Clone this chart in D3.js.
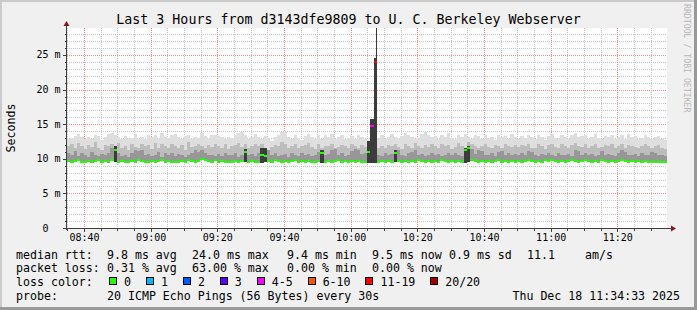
<!DOCTYPE html>
<html><head><meta charset="utf-8">
<script src="https://cdn.jsdelivr.net/npm/d3@7"></script>
<style>
html,body{margin:0;padding:0;background:#f0f0f0;}
svg{display:block;}
text{font-family:"DejaVu Sans Mono",monospace;fill:#000;white-space:pre;}
</style></head><body>
<svg id="c" width="697" height="310"></svg>
<script>
// ---------- data ----------
const title = "Last 3 Hours from d3143dfe9809 to U. C. Berkeley Webserver";
const yAxisTitle = "Seconds";
const startTime = [2025, 11, 18, 8, 34, 54];
const stepMinutes = 1;
const yMax = 28.9;
const yTicks = [0, 5, 10, 15, 20, 25];
const yTickLabels = ["0  ", "5 m", "10 m", "15 m", "20 m", "25 m"];

// median rtt (ms) per step
const median = [
 9.7,9.6,9.7,9.8,9.6,9.5,9.7,9.6,9.7,9.8,
 9.6,9.7,9.6,9.8,11.2,9.6,9.7,9.5,9.6,9.7,
 9.6,9.8,9.7,9.5,9.6,9.7,9.6,9.7,9.8,9.6,
 9.7,9.6,9.5,9.6,9.7,9.6,9.8,9.7,9.6,9.7,
 9.9,9.8,9.7,9.6,9.8,
 9.6,9.7,9.6,9.5,9.6,9.7,9.6,9.7,11.0,9.6,
 9.7,9.6,9.5,10.6,10.4,9.7,9.6,9.8,9.7,9.6,
 9.7,9.6,9.7,9.8,9.6,9.7,9.6,9.7,9.6,9.5,
 9.7,10.8,9.6,9.7,9.6,9.7,9.8,9.6,9.7,9.6,
 9.7,9.6,9.7,9.6,9.5,
 11.0,14.7,24.0,9.6,9.7,9.6,9.7,9.6,10.8,9.7,
 9.6,9.7,9.6,9.7,9.6,9.8,9.7,9.6,9.7,9.6,
 9.7,9.6,9.8,9.7,9.6,9.7,9.6,9.7,9.6,11.3,
 11.6,9.8,9.7,9.6,9.7,9.6,9.7,9.6,9.7,9.8,
 9.6,9.7,9.6,9.7,9.6,
 9.7,9.6,9.7,9.8,9.7,9.6,9.7,9.6,9.8,9.7,
 9.8,9.7,9.6,9.7,9.6,9.7,9.8,9.7,9.6,9.7,
 9.8,9.7,9.6,9.7,9.6,9.8,9.7,9.6,9.7,9.6,
 9.7,9.8,9.7,9.6,9.7,9.6,9.7,9.6,9.7,9.6,
 9.6,9.5,9.5,9.5,9.5
];
// top of the darkest smoke (ms)
const smokeDark = [
 10.9,10.6,11.1,10.4,10.8,10.5,10.3,11.0,10.6,10.4,
 10.7,10.5,10.9,11.6,11.8,10.8,10.4,10.6,10.3,10.9,
 11.3,11.1,11.2,10.5,10.7,10.4,10.6,11.0,10.3,10.8,
 10.5,10.9,10.4,10.7,10.5,10.3,10.6,10.8,11.2,11.0,
 11.3,10.9,10.6,10.5,10.4,
 10.7,10.4,10.9,10.6,10.5,10.8,10.3,10.6,11.4,10.5,
 10.7,10.4,10.9,11.5,11.6,11.3,10.6,10.8,10.4,10.5,
 10.7,10.3,10.9,10.6,10.4,10.8,10.5,10.7,10.4,10.6,
 11.0,11.3,10.5,10.7,11.2,11.4,10.6,10.8,10.4,10.5,
 11.1,11.4,11.2,10.7,10.9,
 12.5,15.7,24.5,10.6,10.4,10.8,10.5,10.7,11.3,11.2,
 10.6,10.4,10.8,11.0,11.3,10.5,10.7,10.4,10.6,10.8,
 10.5,10.7,10.4,10.6,10.9,10.5,10.8,10.6,10.4,11.6,
 11.8,11.4,10.7,11.2,11.1,10.6,10.5,10.8,10.4,11.0,
 11.1,10.6,10.8,10.5,10.7,
 10.6,10.8,10.5,11.1,11.0,10.6,10.4,10.7,10.5,10.8,
 10.6,10.4,10.9,10.6,10.5,10.7,10.4,11.2,11.1,10.6,
 10.8,10.5,10.7,10.4,10.6,11.1,10.5,10.7,10.6,10.4,
 10.8,11.2,11.0,10.6,10.5,10.7,10.4,10.8,10.6,10.5,
 11.0,10.9,10.6,10.5,10.4
];
// top of the middle smoke (ms)
const smokeMid = [
 11.8,12.1,11.5,12.3,11.9,11.4,12.0,11.7,12.4,11.6,
 11.3,12.0,11.8,12.2,11.9,12.3,11.5,11.9,11.2,12.1,
 11.7,11.5,12.2,11.8,12.0,11.4,12.3,11.6,12.1,11.9,
 11.5,12.2,11.8,11.6,12.0,11.3,12.4,11.7,11.9,12.1,
 11.8,11.5,12.0,11.7,12.2,
 11.9,11.6,12.1,11.4,11.8,12.0,12.3,11.7,12.2,11.5,
 11.8,12.1,11.9,12.2,11.6,11.3,11.7,12.0,11.8,12.4,
 12.2,11.6,11.9,12.1,11.5,11.8,12.0,12.3,11.7,11.4,
 12.1,11.6,11.9,11.8,12.2,11.5,11.7,12.0,11.9,11.6,
 12.1,11.8,11.5,12.0,11.7,
 12.2,15.7,24.5,11.6,11.9,11.5,12.0,11.8,12.2,11.7,
 11.4,12.1,11.9,11.6,12.3,11.8,11.5,12.0,11.7,12.2,
 11.9,11.6,12.1,11.8,12.0,11.4,11.7,12.3,11.9,11.6,
 12.4,12.2,11.8,11.5,11.9,12.1,11.7,11.6,12.0,11.8,
 11.5,12.2,11.9,11.7,12.0,
 11.7,12.0,11.8,12.2,11.6,11.5,12.1,11.9,11.4,12.0,
 12.2,11.7,11.6,12.1,11.8,11.5,12.0,12.3,11.9,11.7,
 12.1,11.6,11.8,12.2,11.5,11.7,12.0,11.9,12.2,11.6,
 11.8,12.1,11.5,12.0,11.9,11.7,11.6,11.8,12.1,11.9,
 11.6,11.8,12.0,11.5,11.4
];
// top of the light smoke = slowest ping (ms)
const smokeTop = [
 12.9,13.0,13.3,13.6,13.2,12.8,13.1,12.9,13.5,13.3,
 12.7,13.2,13.6,13.7,13.4,13.1,12.8,13.3,12.9,13.0,
 13.6,12.9,13.2,12.8,13.5,13.1,13.4,12.9,13.7,13.2,
 13.0,13.5,13.6,13.1,12.9,13.3,13.5,12.8,13.2,13.0,
 13.7,13.3,12.9,13.4,13.5,
 13.3,13.1,12.8,13.2,13.0,13.4,13.7,13.8,13.5,12.9,
 13.2,13.6,13.1,12.8,13.3,13.0,12.6,13.2,13.5,13.8,
 13.8,13.1,12.9,13.4,13.0,12.7,13.3,13.6,13.2,12.9,
 13.5,12.8,13.4,13.1,13.6,12.9,13.2,13.5,12.8,13.0,
 13.3,12.9,13.4,13.1,12.8,
 12.7,15.7,29.3,13.0,13.4,12.9,13.2,13.6,13.1,12.8,
 13.3,13.7,13.5,13.2,12.9,13.0,13.6,13.8,13.4,13.1,
 13.3,12.9,13.5,13.2,13.7,13.0,12.8,13.4,13.1,13.6,
 13.2,12.9,13.5,13.3,12.8,13.4,13.0,13.2,12.7,13.5,
 13.1,13.3,12.9,13.6,13.2,
 12.8,13.3,13.0,13.5,13.2,12.9,13.4,13.1,12.7,13.3,
 13.6,13.0,12.9,13.5,13.2,12.8,13.4,13.7,13.1,13.3,
 13.5,12.9,13.2,13.6,13.0,12.8,13.3,13.1,13.5,12.9,
 13.2,13.4,12.8,13.6,13.1,13.3,12.9,13.0,13.5,13.2,
 12.8,13.1,13.3,12.9,12.7
];
// steps whose fastest ping lies well below the median (dense, dark smoke)
const lowPingAt = [14, 53, 58, 59, 76, 90, 91, 92, 98, 119, 120];
const lowPingMs = [9.7, 9.7, 9.6, 9.7, 9.6, 9.6, 9.6, 9.6, 9.7, 9.6, 9.7];
// steps with lost pings (out of 20)
const lossAt = [91, 92];
const lossPings = [5, 13];

const lossLabels = ["0", "1", "2", "3", "4-5", "6-10", "11-19", "20/20"];
const lossUpper = [0, 1, 2, 3, 5, 10, 19, 20];
const lossColors = ["#26ff00", "#00b8ff", "#0059ff", "#5e00ff", "#ff00ff", "#ff5500", "#ff0000", "#a10000"];

const rttLabel = "median rtt:";
const rttStats = ["9.8 ms avg", "24.0 ms max", "9.4 ms min", "9.5 ms now", "0.9 ms sd", "11.1", "am/s"];
const lossLabel = "packet loss:";
const lossStats = ["0.31 % avg", "63.00 % max", "0.00 % min", "0.00 % now"];
const colorLabel = "loss color:";
const probeLabel = "probe:";
const probeText = "20 ICMP Echo Pings (56 Bytes) every 30s";
const stampText = "Thu Dec 18 11:34:33 2025";
const watermark = "RRDTOOL / TOBI OETIKER";

// ---------- layout ----------
const L = 67, R = 667, T = 28, B = 228;
const svg = d3.select("#c");
const t0 = new Date(startTime[0], startTime[1], startTime[2], startTime[3], startTime[4], startTime[5]);
const n = median.length;
const t1 = d3.timeMinute.offset(t0, n * stepMinutes);
const x = d3.scaleTime().domain([t0, t1]).range([L, R]);
const y = d3.scaleLinear().domain([0, yMax]).range([B, T]);

// background + border
svg.append("rect").attr("width", 697).attr("height", 310).attr("fill", "#f0f0f0");
svg.append("rect").attr("x", 0).attr("y", 0).attr("width", 697).attr("height", 2).attr("fill", "#cbcbcb");
svg.append("rect").attr("x", 0).attr("y", 0).attr("width", 2).attr("height", 310).attr("fill", "#cbcbcb");
svg.append("rect").attr("x", 694).attr("y", 0).attr("width", 3).attr("height", 310).attr("fill", "#999");
svg.append("rect").attr("x", 0).attr("y", 307).attr("width", 697).attr("height", 3).attr("fill", "#999");

// plot canvas
svg.append("rect").attr("x", L).attr("y", T).attr("width", R - L).attr("height", B - T).attr("fill", "#fff");

// grid
const g = svg.append("g").attr("shape-rendering", "crispEdges");
const minorT = d3.timeMinute.every(5).range(t0, t1);
const isMajorT = d => d.getMinutes() % 20 === 0;
g.selectAll(".vmin").data(minorT.filter(d => !isMajorT(d))).join("line")
  .attr("x1", d => Math.round(x(d)) + 0.5).attr("x2", d => Math.round(x(d)) + 0.5)
  .attr("y1", T).attr("y2", B).attr("stroke", "#c8c8c8").attr("stroke-dasharray", "1,1");
const yMinor = d3.range(1, Math.floor(yMax) + 1);
g.selectAll(".hmin").data(yMinor.filter(v => v % 5 !== 0)).join("line")
  .attr("x1", L).attr("x2", R).attr("y1", v => Math.round(y(v)) + 0.5).attr("y2", v => Math.round(y(v)) + 0.5)
  .attr("stroke", "#c8c8c8").attr("stroke-dasharray", "1,1");
g.selectAll(".vmaj").data(minorT.filter(isMajorT)).join("line")
  .attr("x1", d => Math.round(x(d)) + 0.5).attr("x2", d => Math.round(x(d)) + 0.5)
  .attr("y1", T).attr("y2", B).attr("stroke", "#ff8c8c").attr("stroke-dasharray", "1,1");
g.selectAll(".hmaj").data(yTicks.filter(v => v > 0)).join("line")
  .attr("x1", L).attr("x2", R).attr("y1", v => Math.round(y(v)) + 0.5).attr("y2", v => Math.round(y(v)) + 0.5)
  .attr("stroke", "#ff8c8c").attr("stroke-dasharray", "1,1");

// clip
svg.append("clipPath").attr("id", "pc").append("rect").attr("x", L).attr("y", T).attr("width", R - L).attr("height", B - T);
const data = median.map((m, i) => {
  const li = lowPingAt.indexOf(i);
  const lo = li >= 0 ? lowPingMs[li] : m;
  const ls = lossAt.indexOf(i);
  const lost = ls >= 0 ? lossPings[ls] : 0;
  const ci = lossUpper.findIndex(u => lost <= u);
  return {i, m, lo, dense: li >= 0, dk: smokeDark[i], mid: smokeMid[i], top: smokeTop[i],
          ta: d3.timeMinute.offset(t0, i * stepMinutes), tb: d3.timeMinute.offset(t0, (i + 1) * stepMinutes),
          color: lossColors[ci]};
});
const plot = svg.append("g").attr("clip-path", "url(#pc)").attr("shape-rendering", "crispEdges");
const xa = d => Math.round(x(d.ta)), xb = d => Math.round(x(d.tb));
function band(rows, key, color) {
  plot.append("g").selectAll("rect").data(rows).join("rect")
    .attr("x", xa).attr("width", d => xb(d) - xa(d))
    .attr("y", d => Math.round(y(d[key])))
    .attr("height", d => Math.max(0, Math.round(y(d.lo)) + 1 - Math.round(y(d[key]))))
    .attr("fill", color);
}
const normalTop = data.filter(d => d.top - d.mid < 3);
band(normalTop, "top", "#dedede");
band(data, "mid", "#bdbdbd");
band(data.filter(d => !d.dense), "dk", "#979797");
band(data.filter(d => d.dense), "dk", "#3c3c3c");
// outlier ping of a spike: thin dark stroke
plot.append("g").selectAll("line").data(data.filter(d => d.top - d.mid >= 3)).join("line")
  .attr("x1", d => Math.round((xa(d) + xb(d)) / 2) + 0.5).attr("x2", d => Math.round((xa(d) + xb(d)) / 2) + 0.5)
  .attr("y1", d => y(d.top)).attr("y2", d => y(d.mid)).attr("stroke", "#383838");
// median line, coloured by loss
plot.append("g").selectAll("line").data(data).join("line")
  .attr("x1", xa).attr("x2", xb)
  .attr("y1", d => Math.round(y(d.m))).attr("y2", d => Math.round(y(d.m)))
  .attr("stroke", d => d.color).attr("stroke-width", 2);

// axes
const ax = svg.append("g").attr("shape-rendering", "crispEdges");
ax.append("line").attr("x1", L - 0.5).attr("x2", L - 0.5).attr("y1", B + 2).attr("y2", T - 5).attr("stroke", "#404040");
ax.append("line").attr("x1", L - 4).attr("x2", R + 5).attr("y1", B + 0.5).attr("y2", B + 0.5).attr("stroke", "#404040");
ax.selectAll(".yt").data(yMinor.concat([0])).join("line")
  .attr("x1", v => v % 5 === 0 ? L - 4 : L - 2).attr("x2", L)
  .attr("y1", v => Math.round(y(v)) + 0.5).attr("y2", v => Math.round(y(v)) + 0.5).attr("stroke", "#404040");
ax.selectAll(".xt").data(minorT).join("line")
  .attr("x1", d => Math.round(x(d)) + 0.5).attr("x2", d => Math.round(x(d)) + 0.5)
  .attr("y1", B + 1).attr("y2", d => isMajorT(d) ? B + 4 : B + 3).attr("stroke", "#404040");
svg.append("path").attr("d", `M${L - 3.5},${T - 2} L${L + 2.5},${T - 2} L${L - 0.5},${T - 7} Z`).attr("fill", "#7f1a1a");
svg.append("path").attr("d", `M${R + 4},${B - 2.5} L${R + 4},${B + 3.5} L${R + 9},${B + 0.5} Z`).attr("fill", "#7f1a1a");

// tick labels
svg.selectAll(".yl").data(yTicks).join("text")
  .attr("x", L - 6.5).attr("y", v => y(v) + 3.5).attr("text-anchor", "end")
  .attr("font-size", "10px").text((v, i) => yTickLabels[i]);
const fmt = d3.timeFormat("%H:%M");
svg.selectAll(".xl").data(minorT.filter(isMajorT)).join("text")
  .attr("x", d => x(d) + 0.5).attr("y", 240.5).attr("text-anchor", "middle")
  .attr("font-size", "10px").text(fmt);

// title, axis title, watermark
svg.append("text").attr("x", 348.5).attr("y", 24).attr("text-anchor", "middle").attr("font-size", "13.3px").text(title);
svg.append("text").attr("transform", "translate(15,128) rotate(-90)").attr("text-anchor", "middle").attr("font-size", "11.6px").text(yAxisTitle);
svg.append("text").attr("transform", "translate(684,4) rotate(90)").attr("font-size", "8.2px").style("fill", "#b8b8b8").text(watermark);

// legend
const fs = "11.6px";
const rowY = [258.5, 272.4, 286.3, 300.1];
const statX = [107, 192, 287, 372, 449, 527, 585];
const lg = svg.append("g").attr("font-size", fs);
lg.append("text").attr("x", 16).attr("y", rowY[0]).text(rttLabel);
rttStats.forEach((s, i) => lg.append("text").attr("x", statX[i]).attr("y", rowY[0]).text(s));
lg.append("text").attr("x", 16).attr("y", rowY[1]).text(lossLabel);
lossStats.forEach((s, i) => lg.append("text").attr("x", statX[i]).attr("y", rowY[1]).text(s));
lg.append("text").attr("x", 16).attr("y", rowY[2]).text(colorLabel);
let bx = 109;
lossLabels.forEach((lab, i) => {
  lg.append("rect").attr("x", bx + 0.5).attr("y", rowY[2] - 8.5).attr("width", 7).attr("height", 7)
    .attr("fill", lossColors[i]).attr("stroke", "#000").attr("shape-rendering", "crispEdges");
  lg.append("text").attr("x", bx + 15).attr("y", rowY[2]).text(lab);
  bx = bx + 15 + lab.length * 6.95 + 15;
});
lg.append("text").attr("x", 16).attr("y", rowY[3]).text(probeLabel);
lg.append("text").attr("x", 107).attr("y", rowY[3]).text(probeText);
lg.append("text").attr("x", 680).attr("y", rowY[3]).attr("text-anchor", "end").text(stampText);
</script>
</body></html>
